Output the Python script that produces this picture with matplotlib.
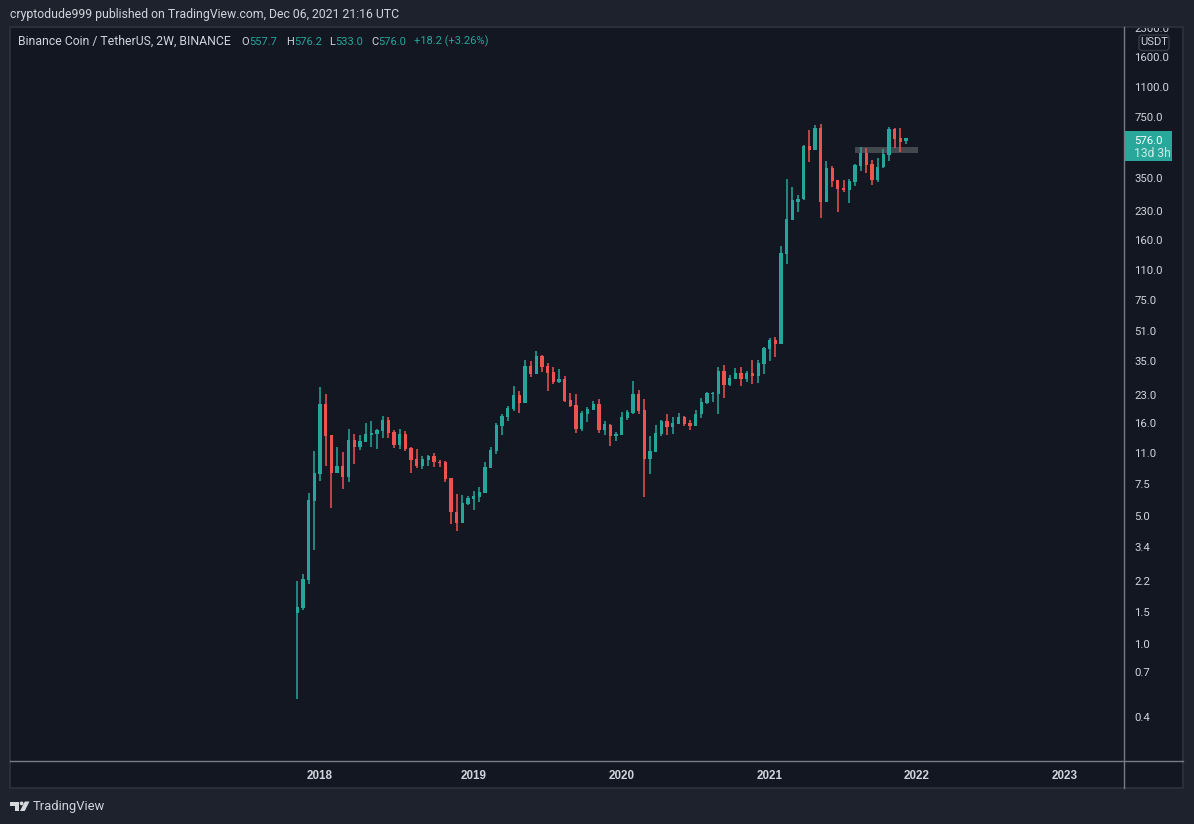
import matplotlib
matplotlib.use("Agg")
import matplotlib.pyplot as plt
from matplotlib.patches import Rectangle, Polygon, Circle, FancyBboxPatch
from matplotlib.lines import Line2D
from matplotlib.ticker import NullLocator, FixedLocator, FixedFormatter
from matplotlib.transforms import ScaledTranslation
import numpy as np

opens = [1.48,1.57,2.23,6.03,8.45,20.5,13.9,8.55,9.34,8.13,13.0,11.9,12.7,13.9,14.0,14.6,16.6,14.4,12.2,14.0,
         11.7,10.2,9.34,10.1,10.6,9.82,9.82,8.03,5.25,4.58,5.81,6.18,6.34,6.66,9.11,11.3,15.4,17.4,19.2,22.9,
         20.7,33.0,29.8,37.4,33.0,30.6,27.0,28.0,21.5,20.2,15.0,18.1,19.0,20.5,14.8,15.6,13.7,13.9,17.2,18.3,
         23.2,19.0,10.2,11.1,14.0,16.4,15.2,15.8,17.4,16.0,15.4,17.9,20.7,23.2,23.2,31.0,26.0,28.0,30.2,28.0,
         30.2,29.1,33.8,40.7,45.6,43.5,135,207,260,267,525,499,658,257,394,339,307,299,331,409,
         481,419,339,399,469,650,580,557.7]
highs = [2.20,2.41,6.66,11.3,25.3,23.2,13.9,11.9,11.1,15.0,14.0,13.9,16.0,16.4,15.0,17.6,17.4,14.8,15.0,14.6,
         11.9,11.6,10.6,10.7,11.0,10.1,9.95,8.03,6.58,6.50,6.42,6.83,7.18,9.82,11.9,16.0,17.9,20.0,25.7,24.1,
         35.5,35.1,39.8,37.8,34.2,32.6,31.8,29.1,23.5,23.2,18.8,19.7,21.3,21.8,16.4,15.8,14.4,18.5,19.0,27.3,
         24.4,21.8,13.7,15.6,16.8,18.1,17.4,18.3,17.6,16.8,19.0,22.1,23.8,23.8,32.6,33.4,29.4,32.2,32.6,31.0,
         35.5,35.5,41.7,46.8,47.4,149,347,314,281,531,642,683,692,435,409,343,339,347,419,518,
         512,440,452,505,666,658,658,576.2]
lows = [0.50,1.53,2.13,3.26,7.74,9.34,5.52,8.55,7.00,7.64,9.58,11.4,12.7,11.9,11.6,13.3,13.3,11.7,11.6,11.3,
        8.55,9.11,9.00,9.34,9.22,9.22,7.64,4.52,4.14,4.58,5.73,5.39,5.95,6.66,9.11,10.9,13.9,16.4,18.8,18.3,
        20.7,28.7,29.8,30.6,24.1,26.3,26.6,21.0,19.7,14.2,14.6,16.2,19.0,14.2,13.9,12.0,12.8,13.9,16.6,17.9,
        17.9,6.34,8.45,11.1,13.7,13.9,14.0,15.8,15.4,14.8,15.4,17.2,20.5,21.0,18.0,22.1,25.7,28.0,25.7,27.0,
        26.3,26.6,29.8,35.1,36.9,43.5,118,207,228,264,430,499,212,257,311,228,292,254,318,384,
        370,322,331,394,435,512,487,533.0]
closes = [1.59,2.26,6.11,8.55,20.5,13.7,8.55,9.34,8.13,13.0,11.9,12.8,14.0,14.2,14.8,16.6,14.2,12.2,14.0,11.6,
          10.1,9.34,10.2,10.6,9.82,9.70,7.93,5.25,4.58,5.88,6.26,6.42,6.75,9.22,11.4,15.6,17.6,19.5,22.9,20.7,
          33.0,29.8,37.4,32.6,30.2,27.0,28.0,21.3,20.0,15.0,18.3,19.2,20.5,14.8,15.8,13.7,14.0,17.4,18.5,23.2,
          18.8,10.2,11.3,14.2,16.4,15.2,16.0,17.4,15.8,15.4,18.1,21.0,23.5,23.5,31.0,26.0,28.4,30.2,28.0,30.2,
          29.1,34.2,41.1,45.6,43.5,137,209,264,270,525,499,658,257,394,335,303,299,335,414,481,
          414,339,404,475,650,573,552,576.0]

price_ticks = [2300.0,1600.0,1100.0,750.0,350.0,230.0,160.0,110.0,75.0,51.0,35.0,23.0,16.0,11.0,7.5,5.0,3.4,2.2,1.5,1.0,0.7,0.4]
year_labels = ["2018","2019","2020","2021","2022","2023"]
year_bars = [3.95,31.05,57.05,82.95,108.85,134.85]
band_bars = (98.0,109.0)
band_prices = (481,518)

OUTER="#1e222d"; PANE="#131722"; BORDER="#2a2e39"; AXIS="#787b86"; TXT="#d1d4dc"
GREEN="#26a69a"; RED="#ef5350"; TAG="#2aa79b"
W,H=1194,824
SANS=["Roboto","DejaVu Sans"]
plt.rcParams["font.family"]=SANS

fig=plt.figure(figsize=(W/100,H/100),dpi=100,facecolor=OUTER)

def pane_axes(zorder):
    a=fig.add_axes([0,0,1,1],zorder=zorder)
    a.set_xlim(0,W); a.set_ylim(H,0); a.axis("off"); a.patch.set_alpha(0)
    return a

under=pane_axes(0)
under.add_patch(Rectangle((10,27),1173,761,fc=PANE,ec=BORDER,lw=1.5))

ax=fig.add_axes([10/W,1-761/H,1114/W,734/H],zorder=1)
ax.patch.set_alpha(0)
ax.set_yscale("log")
ax.set_xlim(-50.49,145.29)
ax.set_ylim(0.2297,2333)
for s in ax.spines.values():
    s.set_visible(False)

x=np.arange(len(opens))
o,h,l,c=map(np.array,(opens,highs,lows,closes))
cols=[GREEN if cc>=oo else RED for oo,cc in zip(o,c)]
ax.add_patch(Rectangle((band_bars[0],band_prices[0]),band_bars[1]-band_bars[0],band_prices[1]-band_prices[0],
                       fc="#45474f",ec="none",zorder=1))
ax.vlines(x,l,h,colors=cols,lw=1.1,zorder=2)
ax.bar(x,np.abs(c-o),bottom=np.minimum(o,c),width=0.58,color=cols,lw=0,zorder=3)

ax.yaxis.tick_right()
ax.yaxis.set_major_locator(FixedLocator(price_ticks))
ax.yaxis.set_major_formatter(FixedFormatter([f"{p:.1f}" for p in price_ticks]))
ax.yaxis.set_minor_locator(NullLocator())
ax.tick_params(axis="y",length=0,pad=7.3,labelsize=8.2,labelcolor=TXT)
ax.set_xticks(year_bars)
ax.set_xticklabels(year_labels,fontweight="bold",fontsize=8.4,color=TXT,family=["Liberation Sans"])
ax.tick_params(axis="x",length=0,pad=6.2)

top=pane_axes(2)
top.add_patch(Rectangle((0,0),W,26.3,fc=OUTER,ec="none"))
top.add_line(Line2D([10,1183],[27,27],color=BORDER,lw=1.5))
top.add_line(Line2D([10,1183],[761,761],color=AXIS,lw=1))
top.add_line(Line2D([1124,1124],[27,788],color=AXIS,lw=1))
top.add_patch(FancyBboxPatch((1139,35),30,15.5,boxstyle="round,pad=0,rounding_size=3",fc=PANE,ec="#363a45",lw=1))
top.text(1154,42.3,"USDT",color=TXT,fontsize=8.0,ha="center",va="center")
top.add_patch(Rectangle((1124,131),48,30,fc=TAG,ec="none"))
top.text(1134,140.5,"576.0",color="white",fontsize=8.2,va="center")
top.text(1134,153.5,"13d 3h",color="#c9ebe7",fontsize=8.7,va="center")

top.text(10,14.5,"cryptodude999 published on TradingView.com, Dec 06, 2021 21:16 UTC",color=TXT,fontsize=8.84,va="center")
LEG_Y=41.5
top.text(18,LEG_Y,"Binance Coin / TetherUS, 2W, BINANCE",color=TXT,fontsize=8.85,va="center")
for px,s,col in [(241,"O",TXT),(249.5,"557.7",GREEN),(286,"H",TXT),(294,"576.2",GREEN),(329,"L",TXT),
                 (335.5,"533.0",GREEN),(371,"C",TXT),(378.5,"576.0",GREEN),(414,"+18.2 (+3.26%)",GREEN)]:
    top.text(px,LEG_Y,s,color=col,fontsize=8.0,va="center")

LOGO="#d6d8de"
top.add_patch(Polygon([(10,801.5),(19,801.5),(19,811),(14.5,811),(14.5,805.5),(10,805.5)],fc=LOGO,ec="none"))
top.add_patch(Circle((21.6,803.4),1.9,fc=LOGO,ec="none"))
top.add_patch(Polygon([(29.5,801.5),(24.7,811),(20,811),(24.8,801.5)],fc=LOGO,ec="none"))
top.text(33,806.5,"TradingView",color=TXT,fontsize=9.35,va="center")

fig.savefig("out.png",dpi=100,facecolor=OUTER)
